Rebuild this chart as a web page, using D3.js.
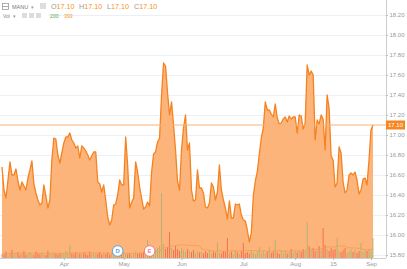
<!DOCTYPE html>
<html>
<head>
<meta charset="utf-8">
<style>
  body { margin: 0; background: #fff; }
  svg { display: block; font-family: "Liberation Sans", Arial, sans-serif; }
  .axis text { fill: #999; font-size: 6px; }
  .axis line { stroke: #bbb; }
  .axis path { display: none; }
</style>
</head>
<body>
<div id="chart"></div>
<script src="https://d3js.org/d3.v7.min.js"></script>
<script>
// closing prices, one sample per step, Mar -> Sep 1
var prices = [
  16.68, 16.45, 16.37, 16.55, 16.73, 16.60, 16.60, 16.66, 16.54, 16.45,
  16.53, 16.49, 16.45, 16.57, 16.65, 16.74, 16.51, 16.42, 16.35, 16.30,
  16.32, 16.50, 16.39, 16.27, 16.35, 16.75, 16.97, 16.96, 16.80, 16.72,
  16.82, 16.92, 16.98, 16.98, 17.02, 16.95, 16.92, 16.87, 16.89, 16.77,
  16.89, 16.87, 16.84, 16.80, 16.75, 16.79, 16.83, 16.83, 16.53, 16.51,
  16.43, 16.50, 16.35, 16.18, 16.10, 16.15, 16.30, 16.31, 16.40, 16.55,
  16.50, 16.50, 16.98, 16.70, 16.27, 16.33, 16.37, 16.73, 16.63, 16.48,
  16.37, 16.26, 16.28, 16.33, 16.29, 16.63, 16.81, 16.83, 16.93, 16.97,
  17.40, 17.72, 17.69, 17.42, 17.20, 17.33, 17.10, 16.85, 16.54, 16.45,
  16.85, 17.07, 17.20, 16.85, 16.92, 16.45, 16.34, 16.35, 16.65, 16.47,
  16.47, 16.42, 16.28, 16.27, 16.32, 16.52, 16.48, 16.35, 16.43, 16.70,
  16.45, 16.35, 16.27, 16.16, 16.34, 16.17, 16.17, 16.31, 16.30, 16.31,
  16.20, 16.15, 16.14, 16.05, 15.93, 16.02, 16.39, 16.54, 16.63, 16.81,
  16.97, 17.07, 17.33, 17.25, 17.25, 17.21, 17.18, 17.31, 17.17, 17.11,
  17.12, 17.16, 17.18, 17.13, 17.19, 17.16, 17.18, 17.18, 17.02, 17.20,
  17.19, 17.06, 17.12, 17.70, 17.60, 17.64, 17.60, 16.95, 17.15, 17.11,
  17.20, 17.16, 16.85, 17.40, 17.27, 16.79, 16.75, 16.48, 16.52, 16.88,
  16.82, 16.53, 16.42, 16.45, 16.60, 16.62, 16.60, 16.63, 16.55, 16.41,
  16.45, 16.56, 16.57, 16.50, 16.75, 17.05, 17.10
];

// volume, same samples
var volumes = [
  420, 380, 650, 300, 520, 800, 350, 450, 600, 280,
  500, 700, 330, 420, 560, 380, 300, 650, 480, 360,
  520, 400, 300, 750, 450, 380, 600, 420, 330, 500,
  460, 380, 700, 520, 1300, 450, 400, 600, 350, 480,
  380, 550, 420, 300, 650, 400, 500, 350, 420, 600,
  330, 480, 400, 560, 300, 420, 700, 380, 500, 450,
  350, 600, 420, 380, 520, 300, 450, 650, 400, 550,
  480, 600, 900, 1800, 700, 500, 650, 800, 1000, 1200,
  6500, 1400, 900, 1100, 2600, 1000, 800, 1200, 900, 700,
  1000, 800, 650, 900, 700, 600, 800, 500, 700, 550,
  600, 450, 700, 500, 800, 400, 650, 550, 1600, 500,
  450, 700, 600, 2000, 500, 650, 400, 800, 550, 450,
  700, 1500, 500, 600, 450, 800, 550, 400, 650, 1100,
  500, 700, 450, 600, 1100, 500, 650, 1800, 550, 400,
  700, 500, 800, 450, 600, 900, 500, 700, 550, 800,
  600, 900, 700, 3600, 1200, 800, 1000, 700, 900, 1200,
  800, 3000, 1300, 900, 700, 1000, 800, 900, 2000, 700,
  600, 800, 1000, 500, 700, 900, 600, 800, 500, 700,
  1500, 600, 800, 700, 900, 650, 2000
];

var yTicks = [15.8, 16.0, 16.2, 16.4, 16.6, 16.8, 17.0, 17.2, 17.4, 17.6, 17.8, 18.0, 18.2];
var xTickLabels = ["Apr", "May", "Jun", "Jul", "Aug", "15", "Sep"];
var xTickIdx = [31, 61, 90, 121, 147, 166, 185];

// dividend / earnings markers
var eventLabels = ["D", "E"];
var eventIdx = [58, 74];
var eventColors = ["#5aa7e0", "#ef7d86"];

var lastPrice = 17.10;
var ohlc = [["O", "17.10"], ["H", "17.10"], ["L", "17.10"], ["C", "17.10"]];
var volText = ["200", "393"];

var W = 407, H = 269;
var plotRight = 386, plotBottom = 258;

var svg = d3.select("#chart").append("svg")
    .attr("width", W)
    .attr("height", H);

var x = d3.scaleLinear().domain([0, prices.length - 1]).range([2, 373]);
var y = d3.scaleLinear().domain([15.8, 18.2]).range([255, 15]);
var vy = d3.scaleLinear().domain([0, 10000]).range([plotBottom, plotBottom - 100]);

// grid
svg.append("g").selectAll("line")
  .data(yTicks)
  .enter().append("line")
    .attr("x1", 0).attr("x2", plotRight)
    .attr("y1", function(d) { return y(d) + 0.5; })
    .attr("y2", function(d) { return y(d) + 0.5; })
    .attr("stroke", "#eaf0f6");

// price area
var area = d3.area()
    .x(function(d, i) { return x(i); })
    .y0(plotBottom)
    .y1(function(d) { return y(d); });
svg.append("path")
    .datum(prices)
    .attr("d", area)
    .attr("fill", "#fdb47b");

// volume bars
svg.append("g").selectAll("rect")
  .data(volumes)
  .enter().append("rect")
    .attr("x", function(d, i) { return x(i) - 0.5; })
    .attr("width", 1)
    .attr("y", function(d) { return vy(d); })
    .attr("height", function(d) { return plotBottom - vy(d); })
    .attr("fill", function(d, i) {
      return (i > 0 && prices[i] < prices[i - 1]) ? "#ee5a4a" : "#9fb070";
    })
    .attr("opacity", 0.75);

// volume moving average
var ma = volumes.map(function(v, i) {
  return d3.mean(volumes.slice(Math.max(0, i - 19), i + 1));
});
svg.append("path")
    .datum(ma)
    .attr("d", d3.line()
      .x(function(d, i) { return x(i); })
      .y(function(d) { return vy(d); }))
    .attr("fill", "none")
    .attr("stroke", "#f59a4f")
    .attr("stroke-width", 0.8);

// price line
svg.append("path")
    .datum(prices)
    .attr("d", d3.line()
      .x(function(d, i) { return x(i); })
      .y(function(d) { return y(d); }))
    .attr("fill", "none")
    .attr("stroke", "#f5821f")
    .attr("stroke-width", 1.3)
    .attr("stroke-linejoin", "round");

// last price line
svg.append("line")
    .attr("x1", 0).attr("x2", plotRight)
    .attr("y1", y(lastPrice)).attr("y2", y(lastPrice))
    .attr("stroke", "#f9b27a")
    .attr("stroke-width", 1);

// axis frame
svg.append("line")
    .attr("x1", plotRight + 0.5).attr("x2", plotRight + 0.5)
    .attr("y1", 0).attr("y2", plotBottom)
    .attr("stroke", "#cfcfcf");
svg.append("line")
    .attr("x1", 0).attr("x2", plotRight)
    .attr("y1", plotBottom + 0.5).attr("y2", plotBottom + 0.5)
    .attr("stroke", "#cfcfcf");

// y axis
svg.append("g")
    .attr("class", "axis")
    .attr("transform", "translate(" + plotRight + ",0)")
    .call(d3.axisRight(y)
      .tickValues(yTicks)
      .tickSize(2)
      .tickPadding(1.5)
      .tickFormat(d3.format(".2f")));

// x axis
svg.append("g")
    .attr("class", "axis")
    .attr("transform", "translate(0," + plotBottom + ")")
    .call(d3.axisBottom(x)
      .tickValues(xTickIdx)
      .tickSize(2)
      .tickPadding(2)
      .tickFormat(function(d, i) { return xTickLabels[i]; }));

// last price tag
svg.append("rect")
    .attr("x", plotRight).attr("y", y(lastPrice) - 4.5)
    .attr("width", 19).attr("height", 9)
    .attr("fill", "#f7861f");
svg.append("text")
    .attr("x", plotRight + 9.5).attr("y", y(lastPrice) + 2.2)
    .attr("text-anchor", "middle")
    .attr("font-size", 6)
    .attr("fill", "#fff")
    .text(d3.format(".2f")(lastPrice));

// event markers
var ev = svg.append("g").selectAll("g")
  .data(eventIdx)
  .enter().append("g")
    .attr("transform", function(d) { return "translate(" + x(d) + ",251)"; });
ev.append("circle")
    .attr("r", 5.3)
    .attr("fill", "#fff")
    .attr("stroke", function(d, i) { return eventColors[i]; })
    .attr("stroke-width", 1);
ev.append("text")
    .attr("text-anchor", "middle")
    .attr("y", 2.2)
    .attr("font-size", 6)
    .attr("font-weight", "bold")
    .attr("fill", function(d, i) { return eventColors[i]; })
    .text(function(d, i) { return eventLabels[i]; });

// header
svg.append("rect").attr("x", 0).attr("y", 0).attr("width", 48).attr("height", 20).attr("fill", "#fff");
svg.append("rect").attr("x", 2.5).attr("y", 3.5).attr("width", 6).attr("height", 6)
    .attr("fill", "none").attr("stroke", "#999").attr("stroke-width", 0.8);
svg.append("line").attr("x1", 2.5).attr("x2", 8.5).attr("y1", 6.5).attr("y2", 6.5)
    .attr("stroke", "#999").attr("stroke-width", 0.8);
svg.append("text").attr("x", 12).attr("y", 9).attr("font-size", 5.5).attr("fill", "#777").text("MANU");
svg.append("text").attr("x", 31).attr("y", 9).attr("font-size", 5).attr("fill", "#999").text("\u25BE");
svg.append("rect").attr("x", 40).attr("y", 3).attr("width", 6).attr("height", 6).attr("fill", "#ddd");

var ohlcX = [51, 79, 107, 134];
var hdr = svg.append("g").selectAll("text")
  .data(ohlc)
  .enter().append("text")
    .attr("x", function(d, i) { return ohlcX[i]; })
    .attr("y", 9)
    .attr("font-size", 7.2);
hdr.append("tspan").attr("fill", "#999").text(function(d) { return d[0]; });
hdr.append("tspan").attr("fill", "#f7931e").text(function(d) { return d[1]; });

svg.append("text").attr("x", 3).attr("y", 17.5).attr("font-size", 5).attr("fill", "#888").text("Vol");
svg.append("text").attr("x", 13).attr("y", 17.5).attr("font-size", 4.5).attr("fill", "#999").text("\u25BE");
[22, 29, 36].forEach(function(px) {
  svg.append("rect").attr("x", px).attr("y", 13).attr("width", 5).attr("height", 5).attr("fill", "#ddd");
});
svg.append("text").attr("x", 50).attr("y", 17.5).attr("font-size", 5.2).attr("fill", "#4caf50").text(volText[0]);
svg.append("text").attr("x", 64).attr("y", 17.5).attr("font-size", 5.2).attr("fill", "#f7931e").text(volText[1]);
</script>
</body>
</html>
